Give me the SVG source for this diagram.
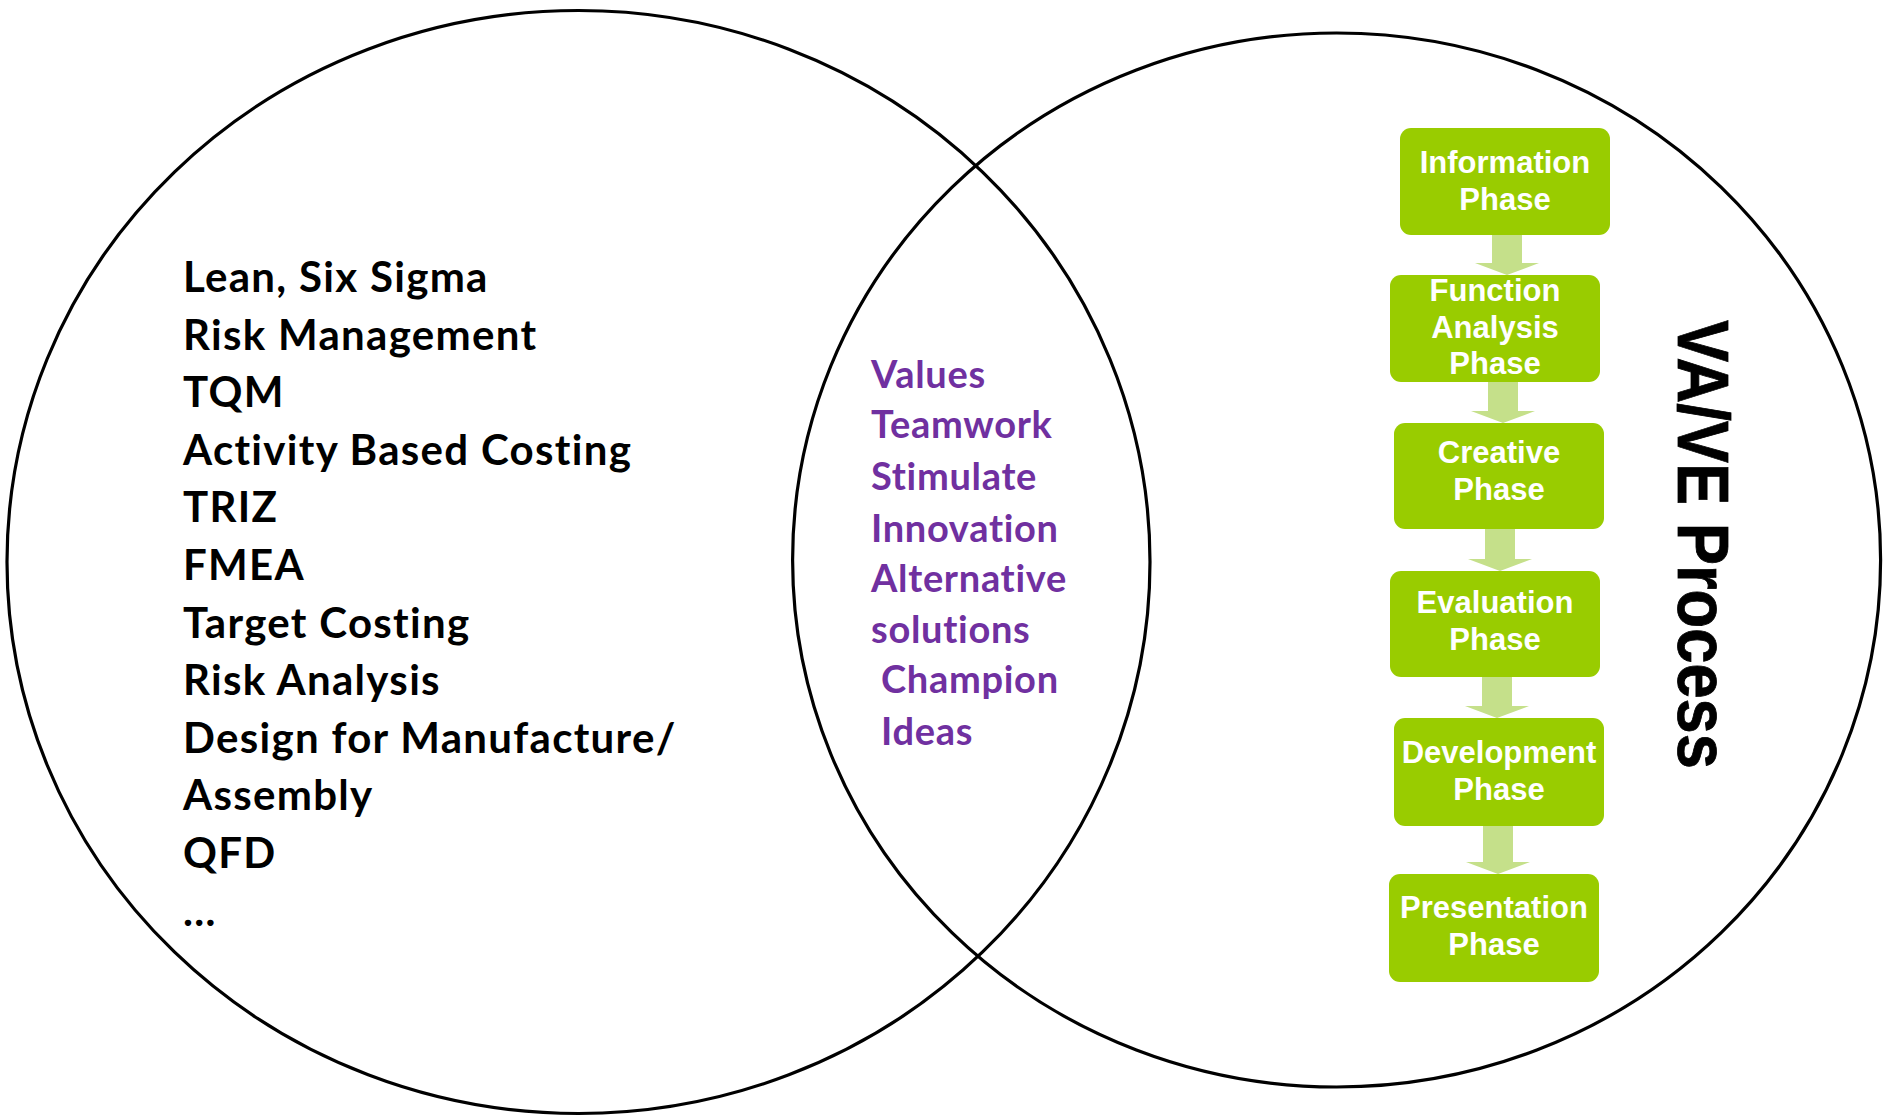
<svg xmlns="http://www.w3.org/2000/svg" width="1883" height="1116" viewBox="0 0 1883 1116">
<style>
.ring{fill:none;stroke:#000;stroke-width:3.2}
.lt{font-family:Lato,"Open Sans",sans-serif;font-weight:700;font-size:42px;letter-spacing:1.3px;fill:#000}
.mt{font-family:Lato,"Open Sans",sans-serif;font-weight:700;font-size:38px;letter-spacing:0.7px;fill:#7030A0}
.box{fill:#99CC00}
.bt{font-family:"Liberation Sans",Arial,sans-serif;font-weight:700;font-size:31px;fill:#fff;text-anchor:middle}
.arr{fill:#C5E08A}
.title{font-family:"Liberation Sans",Arial,sans-serif;font-weight:700;font-size:72px;fill:#000;stroke:#000;stroke-width:0.8}
</style>
<rect width="1883" height="1116" fill="#fff"/>
<g id="left-circle">
<ellipse class="ring" cx="578.5" cy="562" rx="571.5" ry="551.5"/>
<text class="lt" x="183" y="292">Lean, Six Sigma</text>
<text class="lt" x="183" y="349.6">Risk Management</text>
<text class="lt" x="183" y="407.2">TQM</text>
<text class="lt" x="183" y="464.8">Activity Based Costing</text>
<text class="lt" x="183" y="522.4">TRIZ</text>
<text class="lt" x="183" y="580">FMEA</text>
<text class="lt" x="183" y="637.6">Target Costing</text>
<text class="lt" x="183" y="695.2">Risk Analysis</text>
<text class="lt" x="183" y="752.8">Design for Manufacture/</text>
<text class="lt" x="183" y="810.4">Assembly</text>
<text class="lt" x="183" y="868">QFD</text>
<text class="lt" x="183" y="925.6">…</text>
</g>
<g id="right-circle">
<ellipse class="ring" cx="1336.6" cy="560" rx="544" ry="527"/>
<text class="title" transform="translate(1678,320) rotate(90)" textLength="449" lengthAdjust="spacingAndGlyphs">VA/VE Process</text>
</g>
<g id="overlap">
<text class="mt" x="871" y="388">Values</text>
<text class="mt" x="871" y="438">Teamwork</text>
<text class="mt" x="871" y="490">Stimulate</text>
<text class="mt" x="871" y="542">Innovation</text>
<text class="mt" x="871" y="592">Alternative</text>
<text class="mt" x="871" y="643">solutions</text>
<text class="mt" x="881" y="693">Champion</text>
<text class="mt" x="881" y="745">Ideas</text>
</g>
<g id="connectors">
<polygon class="arr" points="1492,235 1522,235 1522,263 1539,263 1507,275 1475,263 1492,263"/>
<polygon class="arr" points="1488,382 1518,382 1518,411 1535,411 1503,423 1471,411 1488,411"/>
<polygon class="arr" points="1485,529 1515,529 1515,559 1532,559 1500,571 1468,559 1485,559"/>
<polygon class="arr" points="1482,677 1512,677 1512,706 1529,706 1497,718 1465,706 1482,706"/>
<polygon class="arr" points="1483,826 1513,826 1513,862 1530,862 1498,874 1466,862 1483,862"/>
</g>
<g id="information-phase">
<rect class="box" x="1400" y="128" width="210" height="107" rx="11"/>
<text class="bt" x="1505" y="173">Information</text>
<text class="bt" x="1505" y="209.5">Phase</text>
</g>
<g id="function-analysis-phase">
<rect class="box" x="1390" y="275" width="210" height="107" rx="11"/>
<text class="bt" x="1495" y="301">Function</text>
<text class="bt" x="1495" y="337.5">Analysis</text>
<text class="bt" x="1495" y="374">Phase</text>
</g>
<g id="creative-phase">
<rect class="box" x="1394" y="423" width="210" height="106" rx="11"/>
<text class="bt" x="1499" y="463">Creative</text>
<text class="bt" x="1499" y="499.5">Phase</text>
</g>
<g id="evaluation-phase">
<rect class="box" x="1390" y="571" width="210" height="106" rx="11"/>
<text class="bt" x="1495" y="613">Evaluation</text>
<text class="bt" x="1495" y="649.5">Phase</text>
</g>
<g id="development-phase">
<rect class="box" x="1394" y="718" width="210" height="108" rx="11"/>
<text class="bt" x="1499" y="763">Development</text>
<text class="bt" x="1499" y="799.5">Phase</text>
</g>
<g id="presentation-phase">
<rect class="box" x="1389" y="874" width="210" height="108" rx="11"/>
<text class="bt" x="1494" y="918">Presentation</text>
<text class="bt" x="1494" y="954.5">Phase</text>
</g>
</svg>
